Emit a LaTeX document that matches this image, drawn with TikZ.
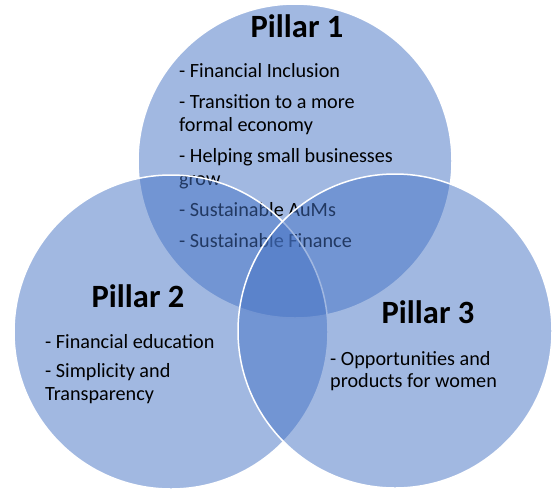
\documentclass[tikz,border=0pt]{standalone}
\usepackage{fontspec}
\setmainfont{Carlito}
\definecolor{pillarblue}{RGB}{68,114,196}
\tikzset{
pillar/.style={circle,minimum size=314pt,inner sep=0pt,fill=pillarblue,fill opacity=0.5,draw=white,draw opacity=1,line width=1.5pt},
ptitle/.style={font=\fontsize{32.5}{38}\selectfont\bfseries,inner sep=0pt,anchor=base},
plist/.style={font=\fontsize{20.2}{22.5}\selectfont,align=left,inner sep=0pt,anchor=north west}
}

\begin{document}
\begin{tikzpicture}[x=1pt,y=-1pt]
\useasboundingbox (0,0) rectangle (553,488);
% pillar 1 first, its text goes under the other two circles
\node[pillar] (c1) at (295,161) {};
\node[ptitle] (t1) at (297,37) {Pillar 1};
\node[plist] (l1) at (179,63) {- Financial Inclusion\\[9pt]
- Transition to a more\\formal economy\\[9pt]
- Helping small businesses\\grow\\[9pt]
- Sustainable AuMs\\[8pt]
- Sustainable Finance};
\node[pillar] (c2) at (171,332) {};
\node[pillar] (c3) at (395,331) {};
\node[ptitle] (t2) at (138,307) {Pillar 2};
\node[plist] (l2) at (45,334) {- Financial education\\[7pt]
- Simplicity and\\Transparency};
\node[ptitle] (t3) at (428,323) {Pillar 3};
\node[plist] (l3) at (330,351) {- Opportunities and\\products for women};
\end{tikzpicture}
\end{document}
